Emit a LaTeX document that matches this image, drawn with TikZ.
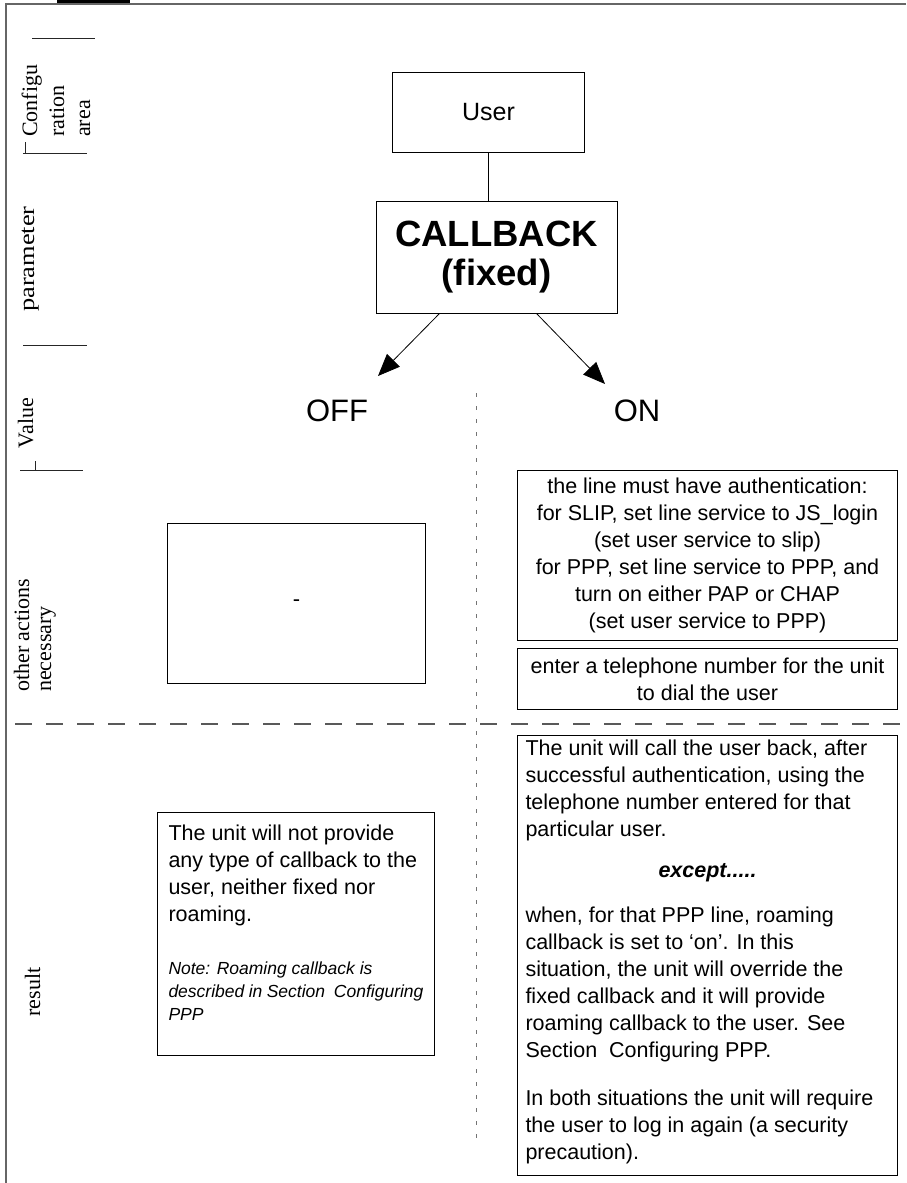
\documentclass[tikz,border=0pt]{standalone}
\usepackage{graphicx}
\usepackage{fontspec}
\setmainfont{Liberation Sans}
\newfontfamily\labelserif{Liberation Serif}
\usetikzlibrary{arrows.meta,calc}
\begin{document}
\begin{tikzpicture}[x=1pt,y=-1pt,
  frameline/.style={draw=black!60, line width=1.3pt},
  tickline/.style={draw=black!85, line width=1pt},
  sidelabel/.style={rotate=90, inner sep=0pt, font=\fontsize{22}{26}\selectfont\labelserif},
  box/.style={draw=black, line width=1pt},
  bodytext/.style={font=\fontsize{21.5}{27}\selectfont},
  arrowline/.style={draw=black, line width=0.8pt, -{Triangle[length=22pt,width=18pt]}},
  rowsplit/.style={draw=black!65, line width=1.2pt, dash pattern=on 17pt off 14pt},
  colsplit/.style={draw=black!55, line width=1pt, dash pattern=on 4pt off 9pt},
  valuehead/.style={font=\fontsize{31}{36}\selectfont}
]
\useasboundingbox (0,0) rectangle (906,1183);

% outer frame and heading rule
\draw[frameline] (906,4) -- (6,4) -- (6,1183);
\draw[black, line width=3pt] (57,1.5) -- (130,1.5);

% separators of the label column
\draw[tickline] (32,38) -- (95,38);
\draw[tickline] (23,153) -- (87,153);
\draw[tickline] (25,142) -- (25,153);
\draw[tickline] (23,345) -- (87,345);
\draw[tickline] (20,470) -- (83,470);
\draw[tickline] (35,461) -- (35,470);

% row labels
\node[sidelabel, anchor=base west] (cfga) at (37,137) {Configu};
\node[sidelabel, anchor=base west] (cfgb) at (64,137) {ration};
\node[sidelabel, anchor=base west] (cfgc) at (90,137) {area};
\node[sidelabel, anchor=base] (parlabel) at (34,259) {\scalebox{1.2}[1]{parameter}};
\node[sidelabel, anchor=base] (vallabel) at (33,423) {Value};
\node[sidelabel, anchor=base west] (otha) at (29,692) {other actions};
\node[sidelabel, anchor=base west] (othb) at (51,692) {necessary};
\node[sidelabel, anchor=base] (reslabel) at (40,992) {result};

% configuration tree
\node[box, minimum width=192pt, minimum height=80pt, font=\fontsize{25}{28}\selectfont] (user) at (488.5,112) {User};
\node[box, minimum width=241pt, minimum height=112pt, align=center,
      font=\fontsize{36.5}{39}\selectfont\bfseries] (cb) at (496.5,257) {CALLBACK\\(fixed)};
\draw[black, line width=0.8pt] (user.south) -- (user.south |- cb.north);

\coordinate (offtip) at (378,376);
\coordinate (ontip) at (605,384);
\draw[arrowline] ($(cb.south west)+(64,0)$) -- (offtip);
\draw[arrowline] ($(cb.south west)+(161,0)$) -- (ontip);

\node[valuehead] (off) at (337,411) {OFF};
\node[valuehead] (on) at (637,411) {ON};

% column and row dividers
\coordinate (divtop) at (476,393);
\coordinate (divbot) at (476,1140);
\draw[colsplit] (divtop) -- (divbot);
\coordinate (rowl) at (15,724);
\coordinate (rowr) at (906,724);
\draw[rowsplit] (rowl) -- (rowr);

% OFF column
\node[box, minimum width=258pt, minimum height=160pt, anchor=north west,
      font=\fontsize{22}{26}\selectfont] (offdash) at (167,523) {-};

\node[box, anchor=north west, inner xsep=11pt, inner ysep=0pt, bodytext] (offres) at (157,812)
  {\parbox[c][243pt][t]{255pt}{\raggedright\vspace*{12pt}%
   The unit will not provide\\
   any type of callback to the\\
   user, neither fixed nor\\
   roaming.\par
   \vspace{30pt}%
   {\fontsize{17.5}{23}\selectfont\itshape Note: Roaming callback is\\
   described in Section~ Configuring\\
   PPP\par}}};

% ON column
\node[box, anchor=north west, inner sep=0pt, bodytext] (onreq) at (517,470)
  {\parbox[c][170pt][c]{380pt}{\centering
   the line must have authentication:\\
   for SLIP, set line service to JS\_login\\
   (set user service to slip)\\
   for PPP, set line service to PPP, and\\
   turn on either PAP or CHAP\\
   (set user service to PPP)}};

\node[box, anchor=north west, inner sep=0pt, bodytext] (onphone) at (517,648)
  {\parbox[c][61pt][c]{380pt}{\centering
   enter a telephone number for the unit\\
   to dial the user}};

\node[box, anchor=north west, inner xsep=8pt, inner ysep=0pt, bodytext] (onres) at (517,735)
  {\parbox[c][440pt][t]{364pt}{\raggedright\vspace*{4pt}%
   The unit will call the user back, after\\
   successful authentication, using the\\
   telephone number entered for that\\
   particular user.\par
   \vspace{14pt}%
   {\centering\bfseries\itshape except.....\par}
   \vspace{18pt}%
   when, for that PPP line, roaming\\
   callback is set to ‘on’. In this\\
   situation, the unit will override the\\
   fixed callback and it will provide\\
   roaming callback to the user. See\\
   Section~ Configuring PPP.\par
   \vspace{21pt}%
   In both situations the unit will require\\
   the user to log in again (a security\\
   precaution).}};
\end{tikzpicture}
\end{document}
